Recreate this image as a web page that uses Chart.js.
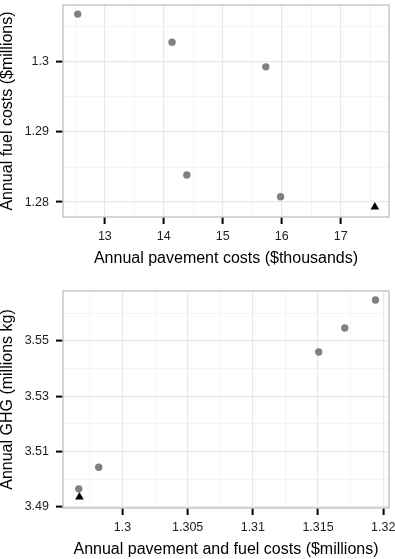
<!DOCTYPE html>
<html>
<head>
<meta charset="utf-8">
<script src="https://cdn.jsdelivr.net/npm/chart.js@4"></script>
<style>
  body { margin: 0; background: #fff; }
  .box { position: absolute; left: 0; }
</style>
</head>
<body>
<div class="box" style="top:0"><canvas id="costChart" width="395" height="280"></canvas></div>
<div class="box" style="top:280px"><canvas id="ghgChart" width="395" height="279"></canvas></div>
<script>
// top panel: pavement vs fuel costs
const paveCosts = [12.54, 14.14, 15.73, 14.39, 15.98];
const fuelCosts = [1.30683, 1.30283, 1.2993, 1.28386, 1.28075];
const basePave = [17.58];
const baseFuel = [1.2793];

// bottom panel: total costs vs GHG
const totalCosts = [1.3194, 1.31705, 1.31505, 1.29818, 1.29665];
const ghgValues = [3.56486, 3.55471, 3.54601, 3.50435, 3.49652];
const baseTotal = [1.2967];
const baseGhg = [3.49362];

// tick labels (major) and minor grid positions
const topXMajor = [13, 14, 15, 16, 17];
const topXLabels = ['13', '14', '15', '16', '17'];
const topXMinor = [12.5, 13.5, 14.5, 15.5, 16.5, 17.5];
const topYMajor = [1.28, 1.29, 1.3];
const topYLabels = ['1.28', '1.29', '1.3'];
const topYMinor = [1.285, 1.295, 1.305];

const botXMajor = [1.3, 1.305, 1.31, 1.315, 1.32];
const botXLabels = ['1.3', '1.305', '1.31', '1.315', '1.32'];
const botXMinor = [1.2975, 1.3025, 1.3075, 1.3125, 1.3175];
const botYMajor = [3.49, 3.51, 3.53, 3.55];
const botYLabels = ['3.49', '3.51', '3.53', '3.55'];
const botYMinor = [3.50, 3.52, 3.54, 3.56];

const FONT = '"Liberation Sans", Arial, Helvetica, sans-serif';

function tickList(major, labels, minor) {
  const t = major.map((v, i) => ({value: v, label: labels[i], minor: false}));
  minor.forEach(v => t.push({value: v, label: '', minor: true}));
  return t.sort((a, b) => a.value - b.value);
}

const panelBorder = {
  id: 'panelBorder',
  afterDatasetsDraw(chart) {
    const a = chart.chartArea;
    const c = chart.ctx;
    c.save();
    c.strokeStyle = '#c6c6c6';
    c.lineWidth = 1.5;
    c.strokeRect(a.left, a.top, a.right - a.left, a.bottom - a.top);
    c.restore();
  }
};

function makeScale(opts) {
  const horiz = opts.axis === 'x';
  return {
    type: 'linear',
    position: horiz ? 'bottom' : 'left',
    min: opts.min,
    max: opts.max,
    afterBuildTicks: (scale) => { scale.ticks = opts.ticks; },
    afterFit: (scale) => {
      if (horiz) scale.height = opts.size; else scale.width = opts.size;
      scale.paddingLeft = 0; scale.paddingRight = 0;
      scale.paddingTop = 0; scale.paddingBottom = 0;
    },
    border: {display: false},
    grid: {
      color: (ctx) => ctx.tick && ctx.tick.minor ? '#f4f4f4' : '#e8e8e8',
      lineWidth: (ctx) => ctx.tick && ctx.tick.minor ? 1 : 1.2,
      tickColor: (ctx) => ctx.tick && ctx.tick.minor ? 'rgba(0,0,0,0)' : '#000',
      tickWidth: 2,
      tickLength: 7,
      drawTicks: true
    },
    ticks: {
      autoSkip: false,
      maxRotation: 0,
      padding: horiz ? 5 : 7,
      color: '#1e1e1e',
      font: {family: FONT, size: 12.5},
      callback: (v, i, ticks) => ticks[i].label
    },
    title: {
      display: true,
      text: opts.title,
      color: '#000',
      font: {family: FONT, size: 16, lineHeight: 1},
      padding: horiz ? {top: 0, bottom: opts.titlePad} : {top: 0, bottom: 0}
    }
  };
}

function scatter(el, xs, ys, bx, by, xScale, yScale, pad) {
  return new Chart(document.getElementById(el), {
    type: 'scatter',
    data: {
      datasets: [
        {
          data: xs.map((x, i) => ({x: x, y: ys[i]})),
          backgroundColor: '#808080',
          borderWidth: 0,
          pointRadius: 3.7,
          pointStyle: 'circle'
        },
        {
          data: bx.map((x, i) => ({x: x, y: by[i]})),
          backgroundColor: '#000',
          borderColor: '#000',
          borderWidth: 0,
          pointRadius: 5,
          pointStyle: 'triangle'
        }
      ]
    },
    options: {
      responsive: false,
      animation: false,
      layout: {padding: pad},
      plugins: {legend: {display: false}, tooltip: {enabled: false}},
      scales: {x: xScale, y: yScale}
    },
    plugins: [panelBorder]
  });
}

scatter('costChart', paveCosts, fuelCosts, basePave, baseFuel,
  makeScale({axis: 'x', min: 12.29, max: 17.82, size: 63, titlePad: 13.5,
    ticks: tickList(topXMajor, topXLabels, topXMinor),
    title: 'Annual pavement costs ($thousands)'}),
  makeScale({axis: 'y', min: 1.27787, max: 1.30813, size: 63,
    ticks: tickList(topYMajor, topYLabels, topYMinor),
    title: 'Annual fuel costs ($millions)'}),
  {top: 0.5, right: 6, bottom: 0, left: 0});

scatter('ghgChart', totalCosts, ghgValues, baseTotal, baseGhg,
  makeScale({axis: 'x', min: 1.29544, max: 1.32044, size: 51, titlePad: 1.7,
    ticks: tickList(botXMajor, botXLabels, botXMinor),
    title: 'Annual pavement and fuel costs ($millions)'}),
  makeScale({axis: 'y', min: 3.4896, max: 3.5681, size: 63,
    ticks: tickList(botYMajor, botYLabels, botYMinor),
    title: 'Annual GHG (millions kg)'}),
  {top: 11, right: 6, bottom: 0, left: 0});
</script>
</body>
</html>
